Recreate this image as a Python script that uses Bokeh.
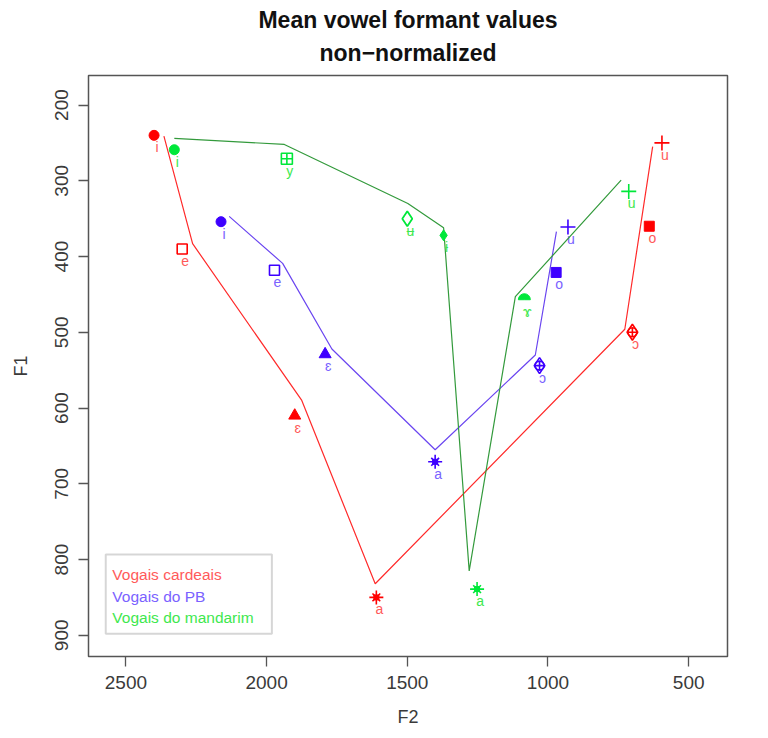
import math
from bokeh.plotting import figure
from bokeh.models import Range1d, Title, FixedTicker, BoxAnnotation
from bokeh.core.properties import value
from bokeh.embed import file_html
from bokeh.resources import INLINE

# ---------------- data ----------------
card_vowels = ["i", "e", "ɛ", "a", "ɔ", "o", "u"]
card_f2 = [2400, 2300, 1900, 1610, 700, 640, 595]
card_f1 = [240, 390, 610, 850, 500, 360, 250]
card_line_f2 = [2365, 2263, 1875, 1614, 727, 628]
card_line_f1 = [241, 383, 590, 832, 496, 255]

pb_vowels = ["i", "e", "ɛ", "a", "ɔ", "o", "u"]
pb_f2 = [2162, 1972, 1792, 1401, 1030, 971, 929]
pb_f1 = [354, 418, 529, 671, 544, 421, 361]
pb_line_f2 = [2133, 1943, 1768, 1401, 1045, 970]
pb_line_f1 = [347, 409, 522, 655, 530, 367]

man_vowels = ["i", "y", "ʉ", "ɨ", "a", "ɤ", "u"]
man_f2 = [2328, 1928, 1500, 1371, 1252, 1084, 713]
man_f1 = [259, 271, 350, 372, 839, 457, 314]
man_line_f2 = [2328, 1937, 1498, 1371, 1280, 1116, 740]
man_line_f1 = [244, 252, 330, 362, 815, 453, 299]

legend_labels = ["Vogais cardeais", "Vogais do PB", "Vogais do mandarim"]
x_ticks = [2500, 2000, 1500, 1000, 500]
y_ticks = [200, 300, 400, 500, 600, 700, 800, 900]

# ---------------- styles ----------------
RED, RED_LINE, RED_TXT = "#FF0000", "#FF2A2A", "#FF5A5A"
BLUE, BLUE_LINE, BLUE_TXT = "#3D00FF", "#6A45F0", "#7A62FF"
GREEN, GREEN_LINE, GREEN_TXT = "#00E83A", "#339A3C", "#3EE84E"

marker_kind = {
    "i": "dot", "e": "open_square", "ɛ": "triangle", "a": "star",
    "ɔ": "diamond_circle", "o": "square", "u": "plus", "y": "square_cross",
    "ʉ": "diamond", "ɨ": "small_diamond", "ɤ": "half",
}

X_LEFT, X_RIGHT = 2633, 362
Y_TOP, Y_BOTTOM = 161, 928
FONT = "'Liberation Sans', 'DejaVu Sans', Arial, sans-serif"

p = figure(width=768, height=738, output_backend="svg", toolbar_location=None,
           x_range=Range1d(X_LEFT, X_RIGHT), y_range=Range1d(Y_BOTTOM, Y_TOP),
           min_border_left=88, min_border_right=41, min_border_top=75,
           min_border_bottom=82, title=None)

p.add_layout(Title(text="non\u2212normalized", align="center", text_font_size="23px",
                   text_font=FONT, text_font_style="bold", text_color="#111111",
                   standoff=19), "above")
p.add_layout(Title(text="Mean vowel formant values", align="center", text_font_size="23px",
                   text_font=FONT, text_font_style="bold", text_color="#111111",
                   standoff=-9), "above")

p.xgrid.visible = False
p.ygrid.visible = False
p.outline_line_color = "#555555"
p.outline_line_width = 1.5
p.background_fill_color = "white"
p.border_fill_color = "white"

for ax in (p.xaxis[0], p.yaxis[0]):
    ax.axis_line_color = None
    ax.major_tick_line_color = "#555555"
    ax.major_tick_line_width = 1.3
    ax.major_tick_out = 10
    ax.major_tick_in = 0
    ax.minor_tick_line_color = None
    ax.major_label_text_font = FONT
    ax.major_label_text_font_size = "19px"
    ax.major_label_text_color = "#3a3a3a"
    ax.axis_label_text_font = FONT
    ax.axis_label_text_font_size = "18px"
    ax.axis_label_text_font_style = "normal"
    ax.axis_label_text_color = "#3a3a3a"

p.xaxis.ticker = FixedTicker(ticks=x_ticks)
p.yaxis.ticker = FixedTicker(ticks=y_ticks)
p.xaxis.axis_label = "F2"
p.yaxis.axis_label = "F1"
p.xaxis.major_label_standoff = 9
p.yaxis.major_label_standoff = 10
p.xaxis.axis_label_standoff = 15
p.yaxis.axis_label_standoff = 22
p.yaxis.major_label_orientation = "vertical"


def draw_marker(kind, x, y, color):
    X, Y = [x], [y]
    if kind == "dot":
        p.scatter(X, Y, marker="circle", size=10, fill_color=color, line_color=color)
    elif kind == "open_square":
        p.scatter(X, Y, marker="square", size=10, fill_color=None, line_color=color, line_width=1.6)
    elif kind == "triangle":
        p.scatter(X, Y, marker="triangle", size=12, fill_color=color, line_color=color)
    elif kind == "star":
        p.scatter(X, Y, marker="x", size=11, line_color=color, line_width=1.6)
        p.scatter(X, Y, marker="cross", size=14, line_color=color, line_width=1.6)
        p.scatter(X, Y, marker="square", size=5, fill_color=color, line_color=color)
    elif kind == "diamond_circle":
        p.scatter(X, Y, marker="diamond", size=16, fill_color=None, line_color=color, line_width=1.6)
        p.scatter(X, Y, marker="circle_cross", size=9, fill_color=None, line_color=color, line_width=1.6)
    elif kind == "square":
        p.scatter(X, Y, marker="square", size=10, fill_color=color, line_color=color)
    elif kind == "plus":
        p.scatter(X, Y, marker="cross", size=15, line_color=color, line_width=1.6)
    elif kind == "square_cross":
        p.scatter(X, Y, marker="square_cross", size=11, fill_color=None, line_color=color, line_width=1.6)
    elif kind == "diamond":
        p.scatter(X, Y, marker="diamond", size=15, fill_color=None, line_color=color, line_width=1.8)
    elif kind == "small_diamond":
        p.scatter(X, Y, marker="diamond", size=11, fill_color=color, line_color=color)
    elif kind == "half":
        p.wedge(X, Y, radius=6, radius_units="screen", start_angle=0, end_angle=math.pi,
                fill_color=color, line_color=color)


groups = [
    (card_vowels, card_f2, card_f1, card_line_f2, card_line_f1, RED, RED_LINE, RED_TXT),
    (pb_vowels, pb_f2, pb_f1, pb_line_f2, pb_line_f1, BLUE, BLUE_LINE, BLUE_TXT),
    (man_vowels, man_f2, man_f1, man_line_f2, man_line_f1, GREEN, GREEN_LINE, GREEN_TXT),
]

for vowels, f2, f1, lf2, lf1, col, lcol, tcol in groups:
    p.line(lf2, lf1, line_color=lcol, line_width=1.2)
    for v, x, y in zip(vowels, f2, f1):
        draw_marker(marker_kind[v], x, y, col)
    p.text(x=f2, y=f1, text=vowels, x_offset=3, y_offset=12, text_align="center",
           text_baseline="middle", text_font_size="14px", text_font=value(FONT),
           text_color=tcol)


def fx(fr):
    return X_LEFT + fr * (X_RIGHT - X_LEFT)


def fy(fr):
    return Y_TOP + fr * (Y_BOTTOM - Y_TOP)


p.add_layout(BoxAnnotation(left=fx(0.027), right=fx(0.287), top=fy(0.8244), bottom=fy(0.961),
                           fill_color=None, fill_alpha=0, line_color="#777777", line_width=2))
legend_cols = [RED_TXT, BLUE_TXT, GREEN_TXT]
legend_y = [fy(0.8594), fy(0.8962), fy(0.9334)]
for lab, c, yy in zip(legend_labels, legend_cols, legend_y):
    p.text(x=[fx(0.0373)], y=[yy], text=[lab], text_align="left", text_baseline="middle",
           text_font_size="15.5px", text_font=value(FONT), text_color=c)

open("out.html", "w").write(file_html(p, INLINE))
